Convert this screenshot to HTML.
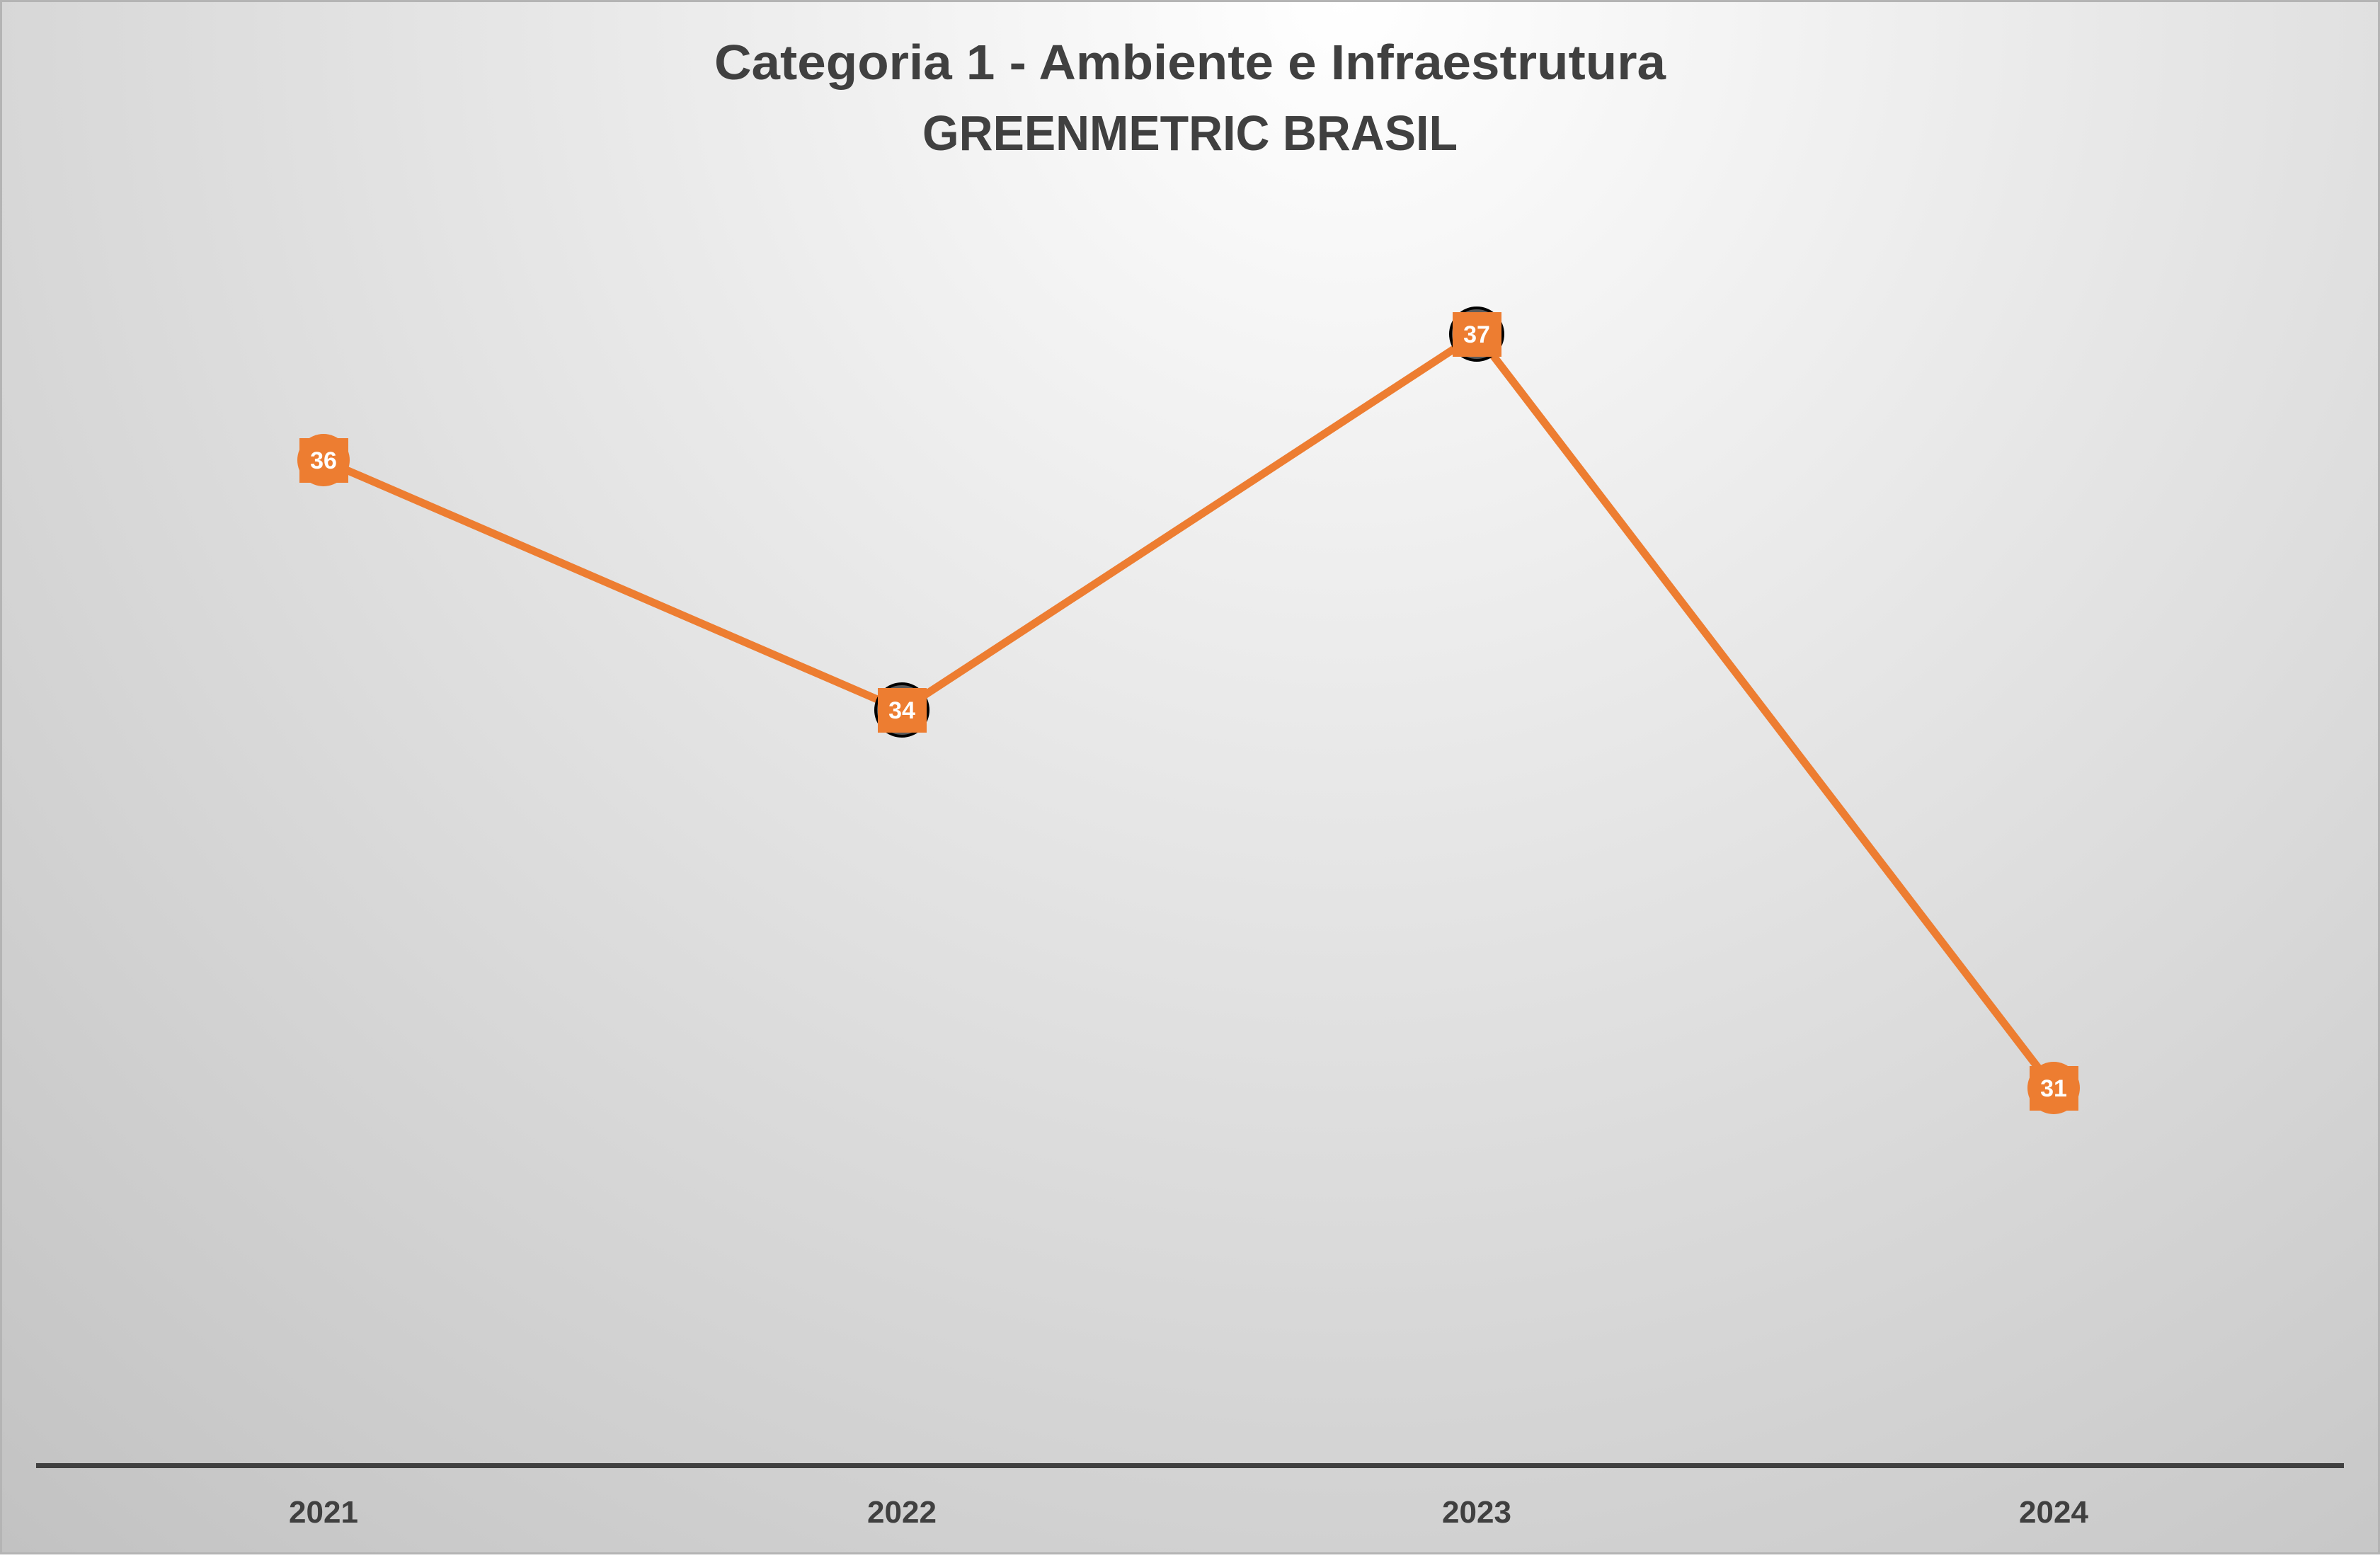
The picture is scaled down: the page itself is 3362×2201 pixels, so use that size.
<!DOCTYPE html>
<html><head><meta charset="utf-8"><style>
html,body{margin:0;padding:0}
body{width:3362px;height:2196px;overflow:hidden}
</style></head><body>
<svg width="3362" height="2196" xmlns="http://www.w3.org/2000/svg" font-family="'Liberation Sans', sans-serif">
<defs>
<radialGradient id="bg" cx="1900" cy="0" r="2900" gradientUnits="userSpaceOnUse">
<stop offset="0" stop-color="#ffffff"/>
<stop offset="1" stop-color="#c2c2c2"/>
</radialGradient>
</defs>
<rect x="0" y="0" width="3362" height="2196" fill="url(#bg)"/>
<rect x="1.5" y="1.5" width="3359" height="2193" fill="none" stroke="#b4b4b4" stroke-width="3"/>
<text x="1681" y="112" text-anchor="middle" font-size="70" font-weight="bold" fill="#404040" textLength="1344" lengthAdjust="spacingAndGlyphs">Categoria 1 - Ambiente e Infraestrutura</text>
<text x="1681" y="212" text-anchor="middle" font-size="70" font-weight="bold" fill="#404040" textLength="756" lengthAdjust="spacingAndGlyphs">GREENMETRIC BRASIL</text>
<rect x="51" y="2067" width="3260" height="7" fill="#404040"/>
<g font-size="44" font-weight="bold" fill="#404040" text-anchor="middle">
<text x="457" y="2151">2021</text>
<text x="1274" y="2151">2022</text>
<text x="2086" y="2151">2023</text>
<text x="2901" y="2151">2024</text>
</g>
<polyline points="457,650 1274,1003 2086,472 2901,1537" fill="none" stroke="#ed7d31" stroke-width="11" stroke-linejoin="round"/>
<circle cx="457" cy="650" r="37" fill="#ed7d31"/>
<circle cx="1274" cy="1003" r="37" fill="#595959" stroke="#000" stroke-width="4"/>
<circle cx="2086" cy="472" r="37" fill="#595959" stroke="#000" stroke-width="4"/>
<circle cx="2901" cy="1537" r="37" fill="#ed7d31"/>
<g fill="#ed7d31">
<rect x="423" y="619" width="69" height="63"/>
<rect x="1240" y="972" width="69" height="63"/>
<rect x="2052" y="441" width="69" height="63"/>
<rect x="2867" y="1506" width="69" height="63"/>
</g>
<g font-size="34" font-weight="bold" fill="#ffffff" text-anchor="middle">
<text x="457" y="662">36</text>
<text x="1274" y="1015">34</text>
<text x="2086" y="484">37</text>
<text x="2901" y="1549">31</text>
</g>
</svg>
</body></html>
